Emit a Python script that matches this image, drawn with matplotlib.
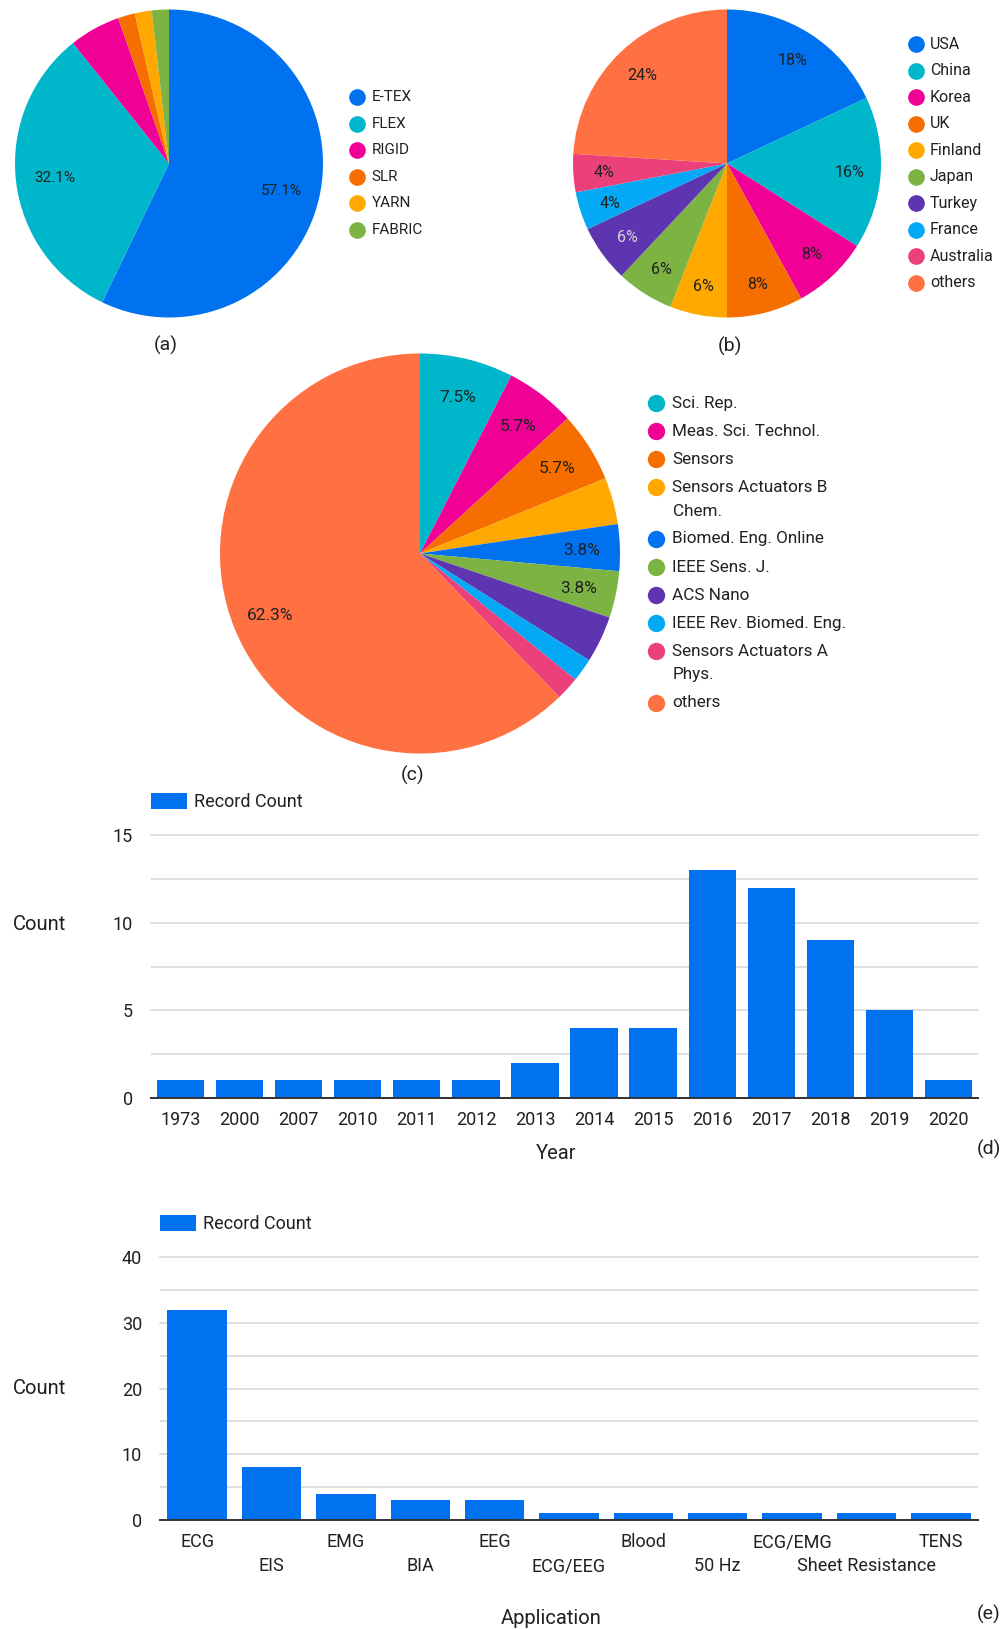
import matplotlib.pyplot as plt
from matplotlib.ticker import MultipleLocator

plt.rcParams['font.family'] = ['Roboto', 'DejaVu Sans']
TEXT = '#212121'

# Data Studio default palette
BLUE = '#0072f0'
TEAL = '#00b6cb'
MAGENTA = '#f10096'
ORANGE = '#f66d00'
YELLOW = '#ffa800'
GREEN = '#7cb342'
PURPLE = '#5e35b1'
SKY = '#03a9f4'
PINK = '#ec407a'
CORAL = '#ff7043'

# (a) electrode type
type_labels = ['E-TEX', 'FLEX', 'RIGID', 'SLR', 'YARN', 'FABRIC']
type_counts = [32, 18, 3, 1, 1, 1]
type_colors = [BLUE, TEAL, MAGENTA, ORANGE, YELLOW, GREEN]
type_shown = [True, True, False, False, False, False]

# (b) country
country_labels = ['USA', 'China', 'Korea', 'UK', 'Finland', 'Japan', 'Turkey',
                  'France', 'Australia', 'others']
country_counts = [9, 8, 4, 4, 3, 3, 3, 2, 2, 12]
country_colors = [BLUE, TEAL, MAGENTA, ORANGE, YELLOW, GREEN, PURPLE, SKY, PINK, CORAL]
country_shown = [True] * 10

# (c) journal
journal_labels = ['Sci. Rep.', 'Meas. Sci. Technol.', 'Sensors',
                  'Sensors Actuators B\nChem.', 'Biomed. Eng. Online', 'IEEE Sens. J.',
                  'ACS Nano', 'IEEE Rev. Biomed. Eng.', 'Sensors Actuators A\nPhys.',
                  'others']
journal_counts = [4, 3, 3, 2, 2, 2, 2, 1, 1, 33]
journal_colors = [TEAL, MAGENTA, ORANGE, YELLOW, BLUE, GREEN, PURPLE, SKY, PINK, CORAL]
journal_shown = [True, True, True, False, True, True, False, False, False, True]

# (d) publication year
years = ['1973', '2000', '2007', '2010', '2011', '2012', '2013', '2014', '2015',
         '2016', '2017', '2018', '2019', '2020']
year_counts = [1, 1, 1, 1, 1, 1, 2, 4, 4, 13, 12, 9, 5, 1]

# (e) application
applications = ['ECG', 'EIS', 'EMG', 'BIA', 'EEG', 'ECG/EEG', 'Blood', '50 Hz',
                'ECG/EMG', 'Sheet Resistance', 'TENS']
application_counts = [32, 8, 4, 3, 3, 1, 1, 1, 1, 1, 1]

W, H = 1005, 1629
fig = plt.figure(figsize=(W / 100, H / 100), dpi=100)


def px_axes(left, top, width, height):
    return fig.add_axes([left / W, 1 - (top + height) / H, width / W, height / H])


# overlay in pixel units for legends and captions
lay = fig.add_axes([0, 0, 1, 1])
lay.set_xlim(0, W)
lay.set_ylim(H, 0)
lay.axis('off')


def draw_pie(cx, cy, r, counts, colors, shown, decimals, pctdist, fontsize):
    ax = px_axes(cx - r, cy - r, 2 * r, 2 * r)
    flags = iter(shown)

    def fmt(pct):
        return f'{pct:.{decimals}f}%' if next(flags) else ''

    wedges, texts, autotexts = ax.pie(counts, colors=colors, startangle=90,
                                      counterclock=False, autopct=fmt,
                                      pctdistance=pctdist,
                                      textprops=dict(fontsize=fontsize, color=TEXT,
                                                     va='center_baseline'),
                                      wedgeprops=dict(linewidth=0))
    ax.set_xlim(-1, 1)
    ax.set_ylim(-1, 1)
    return autotexts


def draw_legend(x, y, labels, colors, fontsize, row_step, line_step, gap, ms=12):
    for lab, col in zip(labels, colors):
        lines = lab.split('\n')
        lay.plot(x, y, 'o', ms=ms, color=col, mec='none')
        for k, line in enumerate(lines):
            lay.text(x + gap, y + k * line_step, line, fontsize=fontsize, color=TEXT,
                     ha='left', va='center')
        y += row_step + (len(lines) - 1) * line_step


# pies
draw_pie(169, 163.5, 154, type_counts, type_colors, type_shown, 1, 0.745, 11)
draw_legend(357, 97.3, type_labels, type_colors, 11, 26.5, 0, 14.7)
lay.text(165.5, 345, '(a)', fontsize=14, color=TEXT, ha='center', va='center')

ctexts = draw_pie(727, 163.5, 154, country_counts, country_colors, country_shown, 0, 0.8, 11.5)
ctexts[6].set_color('#d4d4d4')
draw_legend(915.7, 44.3, country_labels, country_colors, 11.5, 26.5, 0, 14.3)
lay.text(730, 346, '(b)', fontsize=14, color=TEXT, ha='center', va='center')

draw_pie(420, 553.5, 200, journal_counts, journal_colors, journal_shown, 1, 0.81, 12.5)
draw_legend(656, 403.3, journal_labels, journal_colors, 12.3, 28, 23.7, 16.5, ms=12.5)
lay.text(412.6, 775, '(c)', fontsize=14, color=TEXT, ha='center', va='center')


def draw_bars(left, top, width, height, names, counts, ymax, step, ylabel_y,
              xlabel, xlabel_pos, stagger=False):
    ax = px_axes(left, top, width, height)
    n = len(counts)
    ax.bar(range(n), counts, width=0.8, color=BLUE, label='Record Count')
    ax.set_xlim(-0.5, n - 0.5)
    ax.set_ylim(0, ymax)
    ax.yaxis.set_major_locator(MultipleLocator(step))
    ax.yaxis.set_minor_locator(MultipleLocator(step / 2))
    ax.grid(axis='y', which='both', color='#d9d9d9', lw=1.2)
    for line in ax.get_ygridlines():
        line.set_clip_on(False)
    ax.set_axisbelow(True)
    for s in ['top', 'right', 'left']:
        ax.spines[s].set_visible(False)
    ax.spines['bottom'].set_color('#333333')
    ax.spines['bottom'].set_linewidth(1.4)
    ax.set_xticks(range(n))
    ax.set_xticklabels(names)
    ax.tick_params(which='both', length=0, labelsize=13, colors=TEXT)
    ax.tick_params(axis='y', pad=13)
    ax.tick_params(axis='x', pad=9.5)
    if stagger:
        for i, t in enumerate(ax.xaxis.get_major_ticks()):
            if i % 2:
                t.set_pad(9.5 + 24 * 0.72)
    ax.set_ylabel('Count', rotation=0, fontsize=14.5, color=TEXT, ha='center', va='center')
    ax.yaxis.set_label_coords((39 - left) / width, ylabel_y)
    ax.set_xlabel(xlabel, fontsize=14.5, color=TEXT, va='center')
    ax.xaxis.set_label_coords((xlabel_pos[0] - left) / width,
                              (top + height - xlabel_pos[1]) / height)
    ax.legend(loc='center left', bbox_to_anchor=(0, 1 + 33 / height), frameon=False,
              fontsize=13, handlelength=2.0, handleheight=1.0, handletextpad=0.4,
              borderpad=0, borderaxespad=0, labelcolor=TEXT)
    return ax


draw_bars(151, 835, 827, 263, years, year_counts, 15, 5, 0.66, 'Year', (556, 1153.5))
lay.text(989, 1149, '(d)', fontsize=14, color=TEXT, ha='center', va='center')

draw_bars(160, 1257, 818, 263, applications, application_counts, 40, 10, 0.5,
          'Application', (551, 1618.5), stagger=True)
lay.text(989, 1614, '(e)', fontsize=14, color=TEXT, ha='center', va='center')

fig.savefig('out.png', dpi=100)
